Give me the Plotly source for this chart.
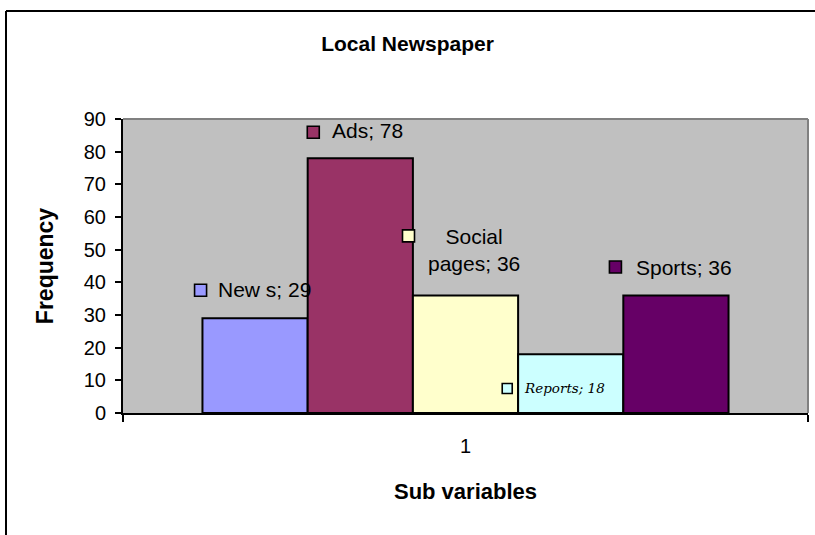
import plotly.graph_objects as go

# ---- data ----
category = ["1"]
series_names = ["News", "Ads", "Social pages", "Reports", "Sports"]
series_values = [29, 78, 36, 18, 36]
series_colors = ["#9999FF", "#993366", "#FFFFCC", "#CCFFFF", "#660066"]
label_texts = ["New s; 29", "Ads; 78", "Social<br>pages; 36", "Reports; 18", "Sports; 36"]
y_ticks = [0, 10, 20, 30, 40, 50, 60, 70, 80, 90]

W, H = 815, 535
L, R, T, B = 123, 7, 119, 122
pw, ph = W - L - R, H - T - B
BARGAP = 0.232

fig = go.Figure()
for name, val, col in zip(series_names, series_values, series_colors):
    fig.add_trace(go.Bar(
        x=category, y=[val], name=name,
        marker=dict(color=col, line=dict(color="black", width=2)),
        showlegend=False,
    ))

# label offsets (pixels) relative to bar centre / bar top
text_dx = [9.5, 7.5, 8.5, -6.5, 8.5]
text_dy = [29, 28, 45, -34, 28]
sq_dx = [-54.5, -47, -57, -63.5, -60.5]
sq_dy = [28, 26, 59.5, -34.3, 28.4]
sq_size = [12, 12, 12, 10, 12]

n = len(series_values)
bw = (1 - BARGAP) / n
for i, (val, txt, col) in enumerate(zip(series_values, label_texts, series_colors)):
    cx = (i - (n - 1) / 2) * bw
    is_rep = series_names[i] == "Reports"
    font = dict(family="Liberation Sans, Arial", size=21, color="black")
    if is_rep:
        font = dict(family="DejaVu Serif", size=13.5, color="black", style="italic")
    fig.add_annotation(
        x=cx, y=val, xref="x", yref="y", text=txt, showarrow=False,
        xshift=text_dx[i], yshift=text_dy[i], font=font,
        xanchor="center", yanchor="middle", align="center",
    )
    s = sq_size[i] / 2
    fig.add_shape(
        type="rect", xref="x", yref="y", xsizemode="pixel", ysizemode="pixel",
        xanchor=cx, yanchor=val,
        x0=sq_dx[i] - s, x1=sq_dx[i] + s, y0=sq_dy[i] - s, y1=sq_dy[i] + s,
        fillcolor=col, line=dict(color="black", width=1.6), layer="above",
    )

def px2x(p):
    return (p - L) / pw

def py2y(p):
    return (H - B - p) / ph

# outer chart frame (left and top edges visible)
fig.add_shape(type="line", xref="paper", yref="paper",
              x0=px2x(6), x1=px2x(6), y0=py2y(11), y1=py2y(H + 5),
              line=dict(color="black", width=2))
fig.add_shape(type="line", xref="paper", yref="paper",
              x0=px2x(6), x1=px2x(W + 5), y0=py2y(11), y1=py2y(11),
              line=dict(color="black", width=2))
# plot area gray border top/right
fig.add_shape(type="line", xref="paper", yref="paper",
              x0=0, x1=1, y0=1, y1=1, line=dict(color="#808080", width=2))
fig.add_shape(type="line", xref="paper", yref="paper",
              x0=1, x1=1, y0=0, y1=1, line=dict(color="#808080", width=2))

fig.update_layout(
    width=W, height=H,
    margin=dict(l=L, r=R, t=T, b=B),
    paper_bgcolor="white", plot_bgcolor="#C0C0C0",
    barmode="group", bargap=BARGAP, bargroupgap=0,
    title=dict(text="<b>Local Newspaper</b>", x=0.5, xref="container", xanchor="center",
               y=1 - 44 / H, yref="container", yanchor="middle",
               font=dict(family="Liberation Sans, Arial", size=21, color="black")),
    font=dict(family="Liberation Sans, Arial", color="black"),
)
fig.update_xaxes(
    type="category", range=[-0.5, 0.5], tickson="boundaries",
    ticks="outside", ticklen=7, tickcolor="black", tickwidth=1.5,
    showline=True, linecolor="black", linewidth=2, showgrid=False,
    tickfont=dict(size=20), ticklabelstandoff=14,
    title=dict(text="<b>Sub variables</b>", font=dict(size=22), standoff=28),
)
fig.update_yaxes(
    range=[0, 90], tickvals=y_ticks, ticks="outside", ticklen=6,
    tickcolor="black", tickwidth=1.5,
    showline=True, linecolor="black", linewidth=2, showgrid=False, zeroline=False,
    tickfont=dict(size=20), ticklabelstandoff=5,
    title=dict(text="<b>Frequency</b>", font=dict(size=23), standoff=24),
)

fig.write_html("out.html")
